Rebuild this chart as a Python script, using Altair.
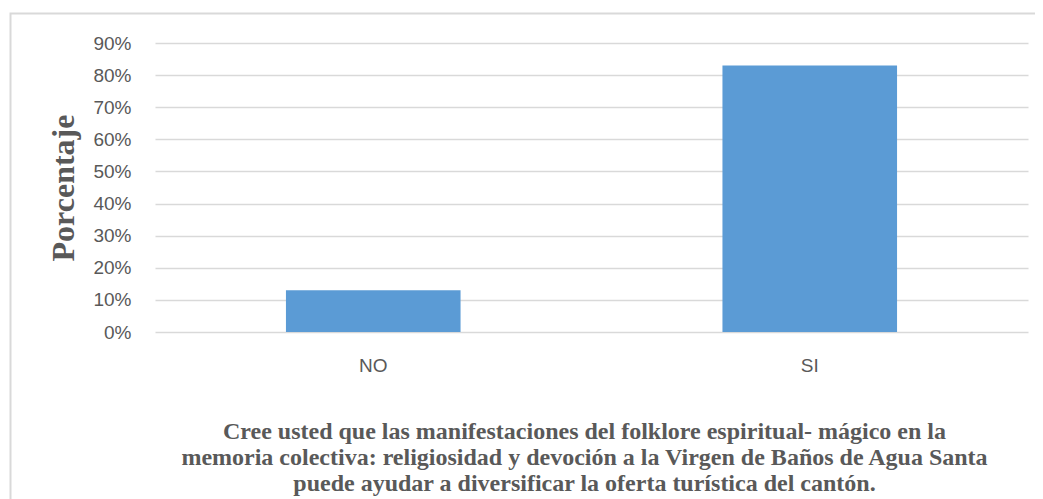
import altair as alt
import pandas as pd

categories = ["NO", "SI"]
values = [0.13, 0.83]

title_lines = [
    "Cree usted que las manifestaciones del folklore espiritual- mágico en la",
    "memoria colectiva: religiosidad y devoción a la Virgen de Baños de Agua Santa",
    "puede ayudar a diversificar la oferta turística del cantón.",
]

df = pd.DataFrame({"cat": categories, "val": values})

GRAY = "#595959"
GRID = "#D9D9D9"

border = alt.Chart(pd.DataFrame({"a": [0]})).mark_rect(
    fill=None, stroke=GRID, strokeWidth=2
).encode(
    x=alt.value(-144.5), x2=alt.value(900),
    y=alt.value(-29.5), y2=alt.value(470),
)

bars = alt.Chart(df).mark_bar(color="#5B9BD5").encode(
    x=alt.X(
        "cat:N",
        sort=categories,
        scale=alt.Scale(paddingInner=0.6, paddingOuter=0.3),
        axis=alt.Axis(
            title=title_lines,
            titleFont="Liberation Serif",
            titleFontSize=24,
            titleFontWeight="bold",
            titleColor=GRAY,
            titleLineHeight=26,
            titlePadding=44,
            titleX=429,
            labelAngle=0,
            labelFont="Liberation Sans",
            labelFontSize=19,
            labelColor=GRAY,
            labelPadding=24,
            domain=False,
            ticks=False,
        ),
    ),
    y=alt.Y(
        "val:Q",
        scale=alt.Scale(domain=[0, 0.9]),
        axis=alt.Axis(
            title="Porcentaje",
            titleFont="Liberation Serif",
            titleFontSize=32,
            titleFontWeight="bold",
            titleColor=GRAY,
            titlePadding=12,
            format=".0%",
            values=[i / 10 for i in range(10)],
            labelFont="Liberation Sans",
            labelFontSize=19,
            labelColor=GRAY,
            labelPadding=24,
            domain=False,
            ticks=False,
            grid=True,
            gridColor=GRID,
            gridWidth=1.5,
        ),
    ),
)

chart = alt.layer(border, bars).properties(
    width=873,
    height=289,
    autosize=alt.AutoSizeParams(type="none"),
    padding={"left": 147, "top": 35, "right": 7, "bottom": 167},
    background="white",
).configure_view(stroke=None)

chart.save("out.html", embed_options={"renderer": "svg", "actions": False})
